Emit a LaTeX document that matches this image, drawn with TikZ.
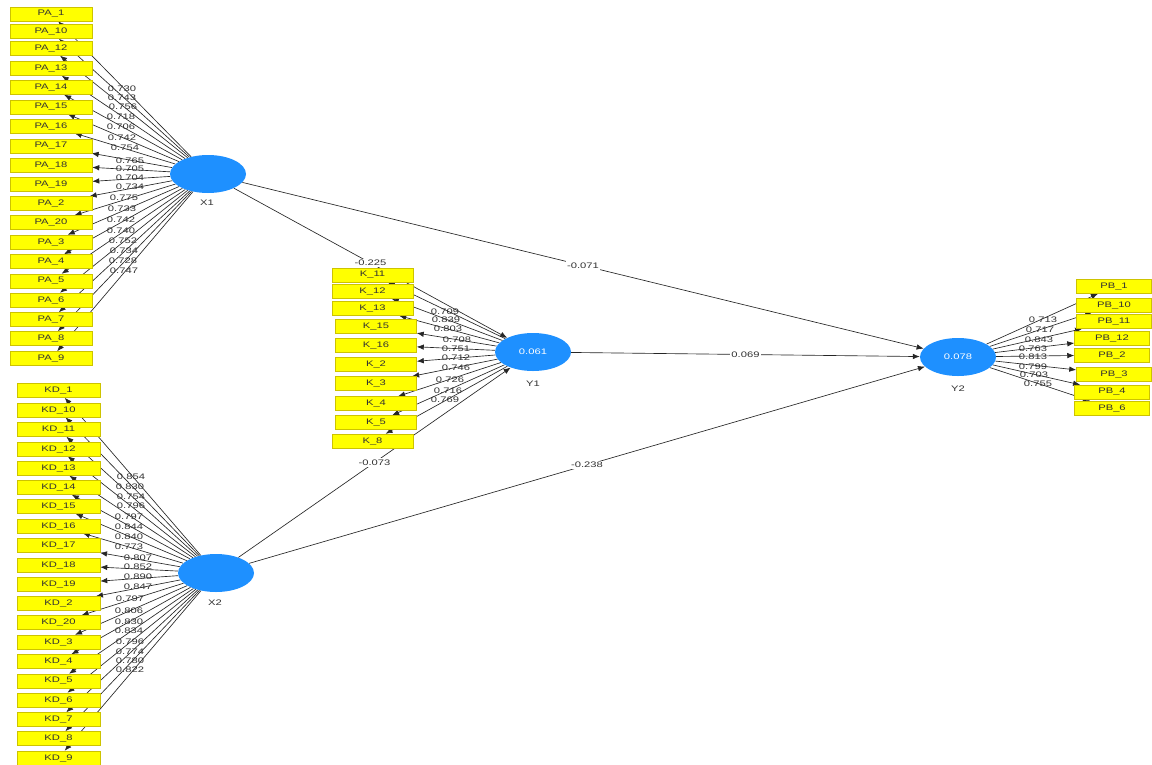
\documentclass[tikz,border=0pt]{standalone}
\usepackage{fontspec}
\newfontfamily\lf{Liberation Sans}[FakeStretch=1.4]
\usetikzlibrary{arrows.meta,shapes.geometric}
\definecolor{lvblue}{RGB}{30,144,255}
\definecolor{boxyellow}{RGB}{255,255,0}
\definecolor{boxedge}{RGB}{205,195,0}
\definecolor{txtgray}{RGB}{50,50,50}
\pgfdeclarelayer{bg}
\pgfdeclarelayer{edges}
\pgfsetlayers{bg,edges,main}
\begin{document}
\begin{tikzpicture}[x=1pt,y=-1pt,
  ind/.style={draw=boxedge,line width=0.5pt,fill=boxyellow,minimum width=82pt,minimum height=14pt,inner sep=0pt,font=\lf\fontsize{8}{9}\selectfont,text=txtgray},
  lv/.style={ellipse,fill=lvblue,minimum width=76pt,minimum height=38pt,inner sep=0pt,font=\lf\fontsize{8}{9}\selectfont,text=white},
  lvname/.style={font=\lf\fontsize{8}{9}\selectfont,text=txtgray,inner sep=0pt},
  ld/.style={font=\lf\fontsize{8}{9}\selectfont,text=txtgray,inner sep=0pt},
  pl/.style={font=\lf\fontsize{8}{9}\selectfont,text=txtgray,fill=white,inner sep=1.2pt},
  ln/.style={draw=black!85,line width=0.65pt,-{Latex[length=7pt,width=5.5pt]}}]
\useasboundingbox (0,0) rectangle (1152,764);
\begin{pgfonlayer}{bg}
\fill[white] (0,0) rectangle (1152,764);
\end{pgfonlayer}

% latent variables
\node[lv] (X1) at (208,174) {};
\node[lv] (X2) at (216,573) {};
\node[lv] (Y1) at (533,352) {0.061};
\node[lv] (Y2) at (958,357) {0.078};
\node[lvname] (X1n) at (207,203) {X1};
\node[lvname] (X2n) at (215,603) {X2};
\node[lvname] (Y1n) at (533,384) {Y1};
\node[lvname] (Y2n) at (958,389) {Y2};

% indicators PA
\foreach \i/\y in {1/14,10/31.5,12/48.5,13/68.5,14/87.5,15/107,16/126,17/146,18/165,19/184,2/203.5,20/222.5,3/242,4/261.5,5/281,6/300,7/319.5,8/338.5,9/358.5}
  \node[ind] (PA\i) at (51,\y) {PA\_\i};
% indicators KD
\foreach \i/\y in {1/390.5,10/410,11/429.5,12/449,13/468.5,14/487.5,15/506.5,16/526,17/545.5,18/565,19/584,2/603.5,20/622.5,3/642,4/661.5,5/681,6/700,7/719.5,8/738.5,9/758}
  \node[ind,minimum width=83pt] (KD\i) at (58.5,\y) {KD\_\i};
% indicators K
\foreach \i/\x/\y in {11/372.5/275,12/372.5/291.5,13/372.5/308.5,15/376/326.5,16/376/345,2/376/364.5,3/376/383.5,4/376/403.5,5/376/422.5,8/372.5/441}
  \node[ind,minimum width=81pt] (K\i) at (\x,\y) {K\_\i};
% indicators PB
\foreach \i/\x/\y in {1/1114/286.5,10/1114/305,11/1114/321.5,12/1112/338.5,2/1112/355,3/1114/374,4/1112/392,6/1112/408}
  \node[ind,minimum width=75pt] (PB\i) at (\x,\y) {PB\_\i};

\begin{pgfonlayer}{edges}
  \foreach \i in {1,10,12,13,14,15,16,17,18,19,2,20,3,4,5,6,7,8,9}
    \draw[ln] (X1) -- (PA\i);
  \foreach \i in {1,10,11,12,13,14,15,16,17,18,19,2,20,3,4,5,6,7,8,9}
    \draw[ln] (X2) -- (KD\i);
  \foreach \i in {11,12,13,15,16,2,3,4,5,8}
    \draw[ln] (Y1) -- (K\i);
  \foreach \i in {1,10,11,12,2,3,4,6}
    \draw[ln] (Y2) -- (PB\i);
  % structural paths
  \draw[ln] (X1) -- node[pl] {-0.225} (Y1);
  \draw[ln] (X1) -- node[pl] {-0.071} (Y2);
  \draw[ln] (Y1) -- node[pl] {0.069} (Y2);
  \draw[ln] (X2) -- node[pl] {-0.073} (Y1);
  \draw[ln] (X2) -- node[pl] {-0.238} (Y2);
\end{pgfonlayer}

% loadings X1
\foreach \v/\x/\y [count=\n] in {0.730/122/89,0.743/122/98,0.756/123/107,0.718/121/117,0.706/121/127,0.742/122/138,0.754/125/148,0.765/130/161,0.705/130/169,0.704/130/178,0.734/130/187,0.775/124/198,0.733/122/209,0.742/121/220,0.740/121/231,0.752/123/241,0.734/124/251,0.728/123/261,0.747/124/271}
  \node[ld] (la\n) at (\x,\y) {\v};
% loadings X2
\foreach \v/\x/\y [count=\n] in {0.854/131/477,0.830/130/487,0.754/131/497,0.796/131/506,0.797/129/517,0.844/129/527,0.840/129/537,0.773/129/547,0.807/138/558,0.852/138/567,0.890/138/577,0.847/138/587,0.797/130/599,0.806/129/611,0.830/129/622,0.834/129/631,0.796/130/642,0.774/130/652,0.780/130/661,0.822/130/670}
  \node[ld] (lb\n) at (\x,\y) {\v};
% loadings Y1
\foreach \v/\x/\y [count=\n] in {0.709/445/312,0.839/446/320,0.803/448/329,0.708/457/340,0.751/456/349,0.712/456/358,0.746/456/368,0.726/450/380,0.716/448/391,0.769/445/400}
  \node[ld] (lc\n) at (\x,\y) {\v};
% loadings Y2
\foreach \v/\x/\y [count=\n] in {0.713/1043/320,0.717/1040/330,0.843/1039/340,0.763/1033/349,0.813/1033/357,0.799/1033/367,0.703/1034/375,0.755/1038/384}
  \node[ld] (ldd\n) at (\x,\y) {\v};
\end{tikzpicture}
\end{document}
